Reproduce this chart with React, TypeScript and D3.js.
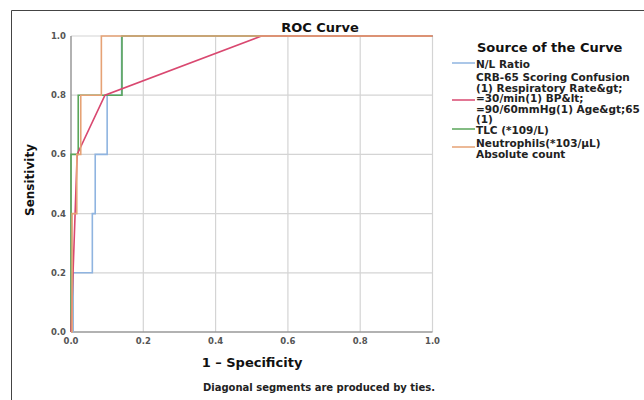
import React from 'react';
import * as d3 from 'd3';

// ROC points (1 - specificity, sensitivity)
const nlRatio: [number, number][] = [
  [0, 0], [0.006, 0], [0.006, 0.2], [0.059, 0.2], [0.059, 0.4], [0.067, 0.4],
  [0.067, 0.6], [0.1, 0.6], [0.1, 0.8], [0.14, 0.8], [0.14, 1], [1, 1],
];
const crb65: [number, number][] = [
  [0, 0], [0.017, 0.6], [0.094, 0.8], [0.527, 1], [1, 1],
];
const tlc: [number, number][] = [
  [0, 0], [0, 0.6], [0.02, 0.6], [0.02, 0.8], [0.141, 0.8], [0.141, 1], [1, 1],
];
const neutrophils: [number, number][] = [
  [0, 0], [0.003, 0], [0.003, 0.4], [0.016, 0.4], [0.016, 0.6], [0.027, 0.6],
  [0.027, 0.8], [0.084, 0.8], [0.084, 1], [1, 1],
];

const ticks = [0, 0.2, 0.4, 0.6, 0.8, 1.0];

const seriesNames = [
  ['N/L Ratio'],
  ['CRB-65 Scoring Confusion', '(1)  Respiratory Rate&gt;', '=30/min(1) BP&lt;', '=90/60mmHg(1) Age&gt;65', '(1)'],
  ['TLC (*109/L)'],
  ['Neutrophils(*103/µL)', 'Absolute count'],
];
const seriesColors = ['#8fb4e0', '#d94870', '#5aa65a', '#e6a275'];
const seriesData = [nlRatio, crb65, tlc, neutrophils];

export default function App() {
  const x = d3.scaleLinear().domain([0, 1]).range([71, 432.5]);
  const y = d3.scaleLinear().domain([0, 1]).range([332, 36]);
  const line = d3.line<[number, number]>().x(d => x(d[0])).y(d => y(d[1]));

  const font = 'DejaVu Sans, Verdana, sans-serif';
  // draw order: blue, green, red, orange on top
  const drawOrder = [0, 2, 1, 3];

  // legend layout: first line y of each entry, line y
  const legendTop = [64, 77, 130, 143];
  const legendLineY = [63, 100, 129, 147];

  return (
    <svg width={644} height={400} style={{ position: 'absolute', left: 0, top: 0, background: '#fff' }}>
      {/* outer frame */}
      <path d="M11.5,400 V10.5 H644" fill="none" stroke="#444" strokeWidth={1} />

      <text x={320} y={32} textAnchor="middle" fontFamily={font} fontWeight="bold" fontSize={13} fill="#111">ROC Curve</text>

      {/* grid */}
      {ticks.filter(t => t > 0).map(t => (
        <line key={'gx' + t} x1={x(t)} x2={x(t)} y1={y(0)} y2={y(1)} stroke="#d4d4d4" strokeWidth={1.2} />
      ))}
      {ticks.filter(t => t > 0).map(t => (
        <line key={'gy' + t} x1={x(0)} x2={x(1)} y1={y(t)} y2={y(t)} stroke="#d4d4d4" strokeWidth={1.2} />
      ))}
      {/* axes */}
      <line x1={x(0)} x2={x(0)} y1={y(0)} y2={y(1)} stroke="#999" strokeWidth={1.5} />
      <line x1={x(0)} x2={x(1)} y1={y(0)} y2={y(0)} stroke="#999" strokeWidth={1.5} />

      {/* tick labels */}
      {ticks.map(t => (
        <text key={'yl' + t} x={66} y={y(t) + 3} textAnchor="end" fontFamily={font} fontWeight="bold" fontSize={8.5} fill="#555">
          {d3.format('.1f')(t)}
        </text>
      ))}
      {ticks.map(t => (
        <text key={'xl' + t} x={x(t)} y={344} textAnchor="middle" fontFamily={font} fontWeight="bold" fontSize={8.5} fill="#555">
          {d3.format('.1f')(t)}
        </text>
      ))}

      {/* curves */}
      {drawOrder.map(i => (
        <path key={'s' + i} d={line(seriesData[i]) || ''} fill="none" stroke={seriesColors[i]} strokeWidth={1.6} />
      ))}

      {/* axis titles */}
      <text x={252} y={367} textAnchor="middle" fontFamily={font} fontWeight="bold" fontSize={13} fill="#111">1 – Specificity</text>
      <text transform="translate(34,180) rotate(-90)" textAnchor="middle" fontFamily={font} fontWeight="bold" fontSize={12} fill="#111">Sensitivity</text>
      <text x={319} y={391} textAnchor="middle" fontFamily={font} fontWeight="bold" fontSize={10} fill="#222">Diagonal segments are produced by ties.</text>

      {/* legend */}
      <text x={477} y={52} fontFamily={font} fontWeight="bold" fontSize={13} fill="#111">Source of the Curve</text>
      {seriesNames.map((lines, i) => (
        <g key={'lg' + i}>
          <line x1={452} x2={475} y1={legendLineY[i]} y2={legendLineY[i]} stroke={seriesColors[i]} strokeWidth={1.5} />
          {lines.map((s, j) => (
            <text key={j} x={476} y={legendTop[i] + 4 + j * 10.6} fontFamily={font} fontWeight="bold" fontSize={10.5} fill="#222">{s}</text>
          ))}
        </g>
      ))}
    </svg>
  );
}
